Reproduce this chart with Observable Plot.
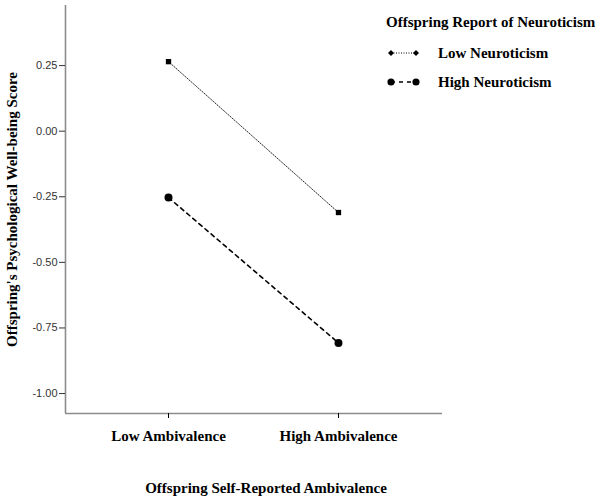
<!DOCTYPE html>
<html>
<head>
<meta charset="utf-8">
<script src="https://cdn.jsdelivr.net/npm/d3@7"></script>
<script src="https://cdn.jsdelivr.net/npm/@observablehq/plot@0.6"></script>
<style>
  body { margin: 0; background: #fff; }
  #chart { position: relative; width: 600px; height: 504px; }
</style>
</head>
<body>
<div id="chart"></div>
<script>
// ---- data ----
const categories = ["Low Ambivalence", "High Ambivalence"];
const groups = ["Low Neuroticism", "High Neuroticism"];
const lowNeuroticism = [0.265, -0.31];
const highNeuroticism = [-0.253, -0.807];
const yTicks = [0.25, 0.00, -0.25, -0.50, -0.75, -1.00];
const yLabel = "Offspring's Psychological Well-being Score";
const xLabel = "Offspring Self-Reported Ambivalence";
const legendTitle = "Offspring Report of Neuroticism";

const rows = [];
categories.forEach((c, i) => {
  rows.push({ xi: i, cat: c, group: groups[0], value: lowNeuroticism[i] });
  rows.push({ xi: i, cat: c, group: groups[1], value: highNeuroticism[i] });
});
const lowRows = rows.filter(d => d.group === groups[0]);
const highRows = rows.filter(d => d.group === groups[1]);

const xDomain = [-0.606, 1.612];
const yDomain = [-1.076, 0.479];
const serif = "'Liberation Serif', 'Times New Roman', serif";
const sans = "'Liberation Sans', Arial, sans-serif";

const plot = Plot.plot({
  width: 600,
  height: 504,
  marginLeft: 65,
  marginRight: 158,
  marginTop: 5,
  marginBottom: 91,
  style: { background: "#fff", overflow: "visible" },
  x: { type: "linear", domain: xDomain, axis: null },
  y: { domain: yDomain, axis: null },
  marks: [
    Plot.ruleX([xDomain[0]], { stroke: "#8c8c8c", strokeWidth: 1.6 }),
    Plot.ruleY([yDomain[0]], { stroke: "#8c8c8c", strokeWidth: 1.6 }),
    Plot.axisY({
      ticks: yTicks, tickSize: 6, tickPadding: 2,
      tickFormat: d => d.toFixed(2), label: null,
      fontFamily: sans, fontSize: 11, fill: "#333", stroke: "#333"
    }),
    Plot.axisX({
      ticks: [0, 1], tickSize: 5, tickPadding: 12,
      tickFormat: i => categories[i], label: null,
      fontFamily: serif, fontSize: 15, fontWeight: "bold", fill: "#000", stroke: "#000"
    }),
    Plot.line(lowRows, { x: "xi", y: "value", stroke: "#222", strokeWidth: 1, strokeDasharray: "1,1.5" }),
    Plot.line(highRows, { x: "xi", y: "value", stroke: "#000", strokeWidth: 1.6, strokeDasharray: "4,4" }),
    Plot.dot(lowRows, { x: "xi", y: "value", symbol: "square", r: 3, fill: "#000" }),
    Plot.dot(highRows, { x: "xi", y: "value", symbol: "circle", r: 4, fill: "#000" }),
    Plot.text([yLabel], {
      text: d => d, frameAnchor: "left", dx: -53, rotate: -90, textAnchor: "middle",
      fontFamily: serif, fontSize: 15, fontWeight: "bold", fill: "#000"
    }),
    Plot.text([xLabel], {
      text: d => d, frameAnchor: "bottom", dx: 12, dy: 79, textAnchor: "middle",
      fontFamily: serif, fontSize: 15, fontWeight: "bold", fill: "#000"
    })
  ]
});
document.getElementById("chart").appendChild(plot);

// ---- legend (inside the same SVG) ----
const svg = d3.select(plot);
const lg = svg.append("g")
  .attr("font-family", serif).attr("font-weight", "bold").attr("font-size", 15)
  .attr("text-anchor", "start").attr("fill", "#000");
lg.append("text").attr("x", 386).attr("y", 22).attr("dy", "0.35em").text(legendTitle);
const items = [
  { label: groups[0], y: 53, dash: "1,1.5", sw: 1, sym: d3.symbolSquare, size: 18, rot: 45 },
  { label: groups[1], y: 82, dash: "4,4", sw: 1.6, sym: d3.symbolCircle, size: 40, rot: 0 }
];
items.forEach(it => {
  lg.append("line").attr("x1", 391).attr("x2", 416).attr("y1", it.y).attr("y2", it.y)
    .attr("stroke", "#000").attr("stroke-width", it.sw).attr("stroke-dasharray", it.dash);
  [391, 416].forEach(x => {
    lg.append("path").attr("d", d3.symbol(it.sym, it.size)())
      .attr("transform", `translate(${x},${it.y}) rotate(${it.rot})`).attr("fill", "#000");
  });
  lg.append("text").attr("x", 438).attr("y", it.y).attr("dy", "0.35em").text(it.label);
});
</script>
</body>
</html>
